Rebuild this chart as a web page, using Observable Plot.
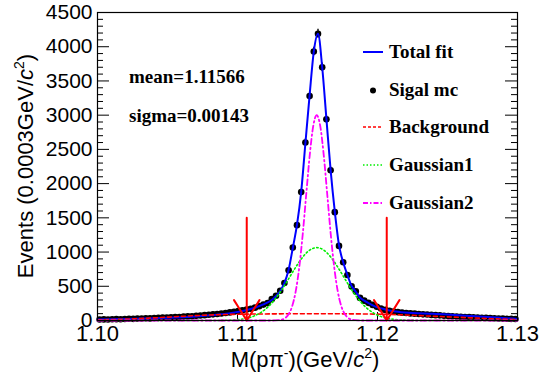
<!DOCTYPE html>
<html><head><meta charset="utf-8">
<script src="https://cdn.jsdelivr.net/npm/d3@7"></script>
<script src="https://cdn.jsdelivr.net/npm/@observablehq/plot@0.6"></script>
<style>body{margin:0;background:#fff;} svg{display:block}</style>
</head><body><div id="chart"></div>
<script>
// ---- data ----
const binLow = 1.10, binWidth = 0.0003;
const counts = [
  14, 16, 15, 18, 20, 19, 23, 25, 24, 28,
  30, 32, 31, 36, 38, 42, 44, 47, 50, 52,
  57, 60, 63, 68, 72, 78, 84, 90, 96, 102,
  110, 118, 128, 138, 148, 160, 172, 188, 210, 232,
  254, 312, 362, 435, 547, 735, 1065, 1393, 1876, 2600,
  3280, 3930, 4190, 3700, 2940, 2195, 1583, 1090, 850, 665,
  498, 425, 330, 290, 258, 228, 200, 175, 155, 140,
  130, 122, 115, 110, 104, 100, 95, 90, 87, 82,
  78, 75, 70, 66, 63, 58, 55, 52, 49, 46,
  43, 40, 38, 35, 32, 30, 28, 26, 24, 22
];
const totalMass = [1.1000,1.1020,1.1040,1.1055,1.1070,1.1085,1.1097,1.1106,1.1113,1.11185,
  1.11245,1.11275,1.11305,1.11335,1.11365,1.11395,1.11425,1.11455,1.11485,1.11515,
  1.11545,1.11575,1.11605,1.11635,1.11665,1.11695,1.11725,1.11755,1.11785,1.11815,
  1.11845,1.11875,1.11905,1.11935,1.1199,1.1205,1.1213,1.1225,1.1240,1.1255,1.1270,1.1285,1.1300];
const totalFit = [15,22,32,44,60,85,115,150,190,235,
  300,355,430,545,740,1060,1400,1880,2590,3290,
  3930,4190,3700,2950,2200,1590,1100,850,665,505,
  420,335,290,255,200,165,130,110,98,80,62,45,22];
const bgMass = [1.100,1.102,1.104,1.106,1.108,1.110,1.112,1.114,1.116,1.118,1.120,1.122,1.124,1.126,1.128,1.130];
const bgFit  = [10,20,38,60,80,91,96,98,98,97,93,80,62,45,28,12];
const g1Mass = [1.100,1.10816,1.10866,1.10916,1.10966,1.11016,1.11066,1.11116,1.11166,1.11216,1.11266,1.11316,1.11366,1.11416,1.11466,1.11516,
  1.11566,1.11616,1.11666,1.11716,1.11766,1.11816,1.11866,1.11916,1.11966,1.12016,1.12066,1.12116,1.12166,1.12216,1.12266,1.12316,1.130];
const g1Fit  = [0,0,1,3,7,16,33,64,116,195,306,448,612,780,927,1029,
  1065,1029,927,780,612,448,306,195,116,64,33,16,7,3,1,0,0];
const g2Mass = [1.100,1.11216,1.11241,1.11266,1.11291,1.11316,1.11341,1.11366,1.11391,1.11416,1.11441,1.11466,1.11491,1.11516,1.11541,
  1.11566,1.11591,1.11616,1.11641,1.11666,1.11691,1.11716,1.11741,1.11766,1.11791,1.11816,1.11841,1.11866,1.11891,1.11916,1.130];
const g2Fit  = [0,0,0,1,4,13,37,94,212,428,776,1262,1844,2416,2842,
  3000,2842,2416,1844,1262,776,428,212,94,37,13,4,1,0,0,0];
const arrowMass = [1.11066, 1.12066];
const arrowTop = 1500;
const xTicks = [1.10, 1.11, 1.12, 1.13];
const yTicks = [0,500,1000,1500,2000,2500,3000,3500,4000,4500];
const yMinor = d3.range(0, 4501, 100).filter(v => v % 500 !== 0);
const legendLabels = ["Total fit", "Sigal mc", "Background", "Gaussian1", "Gaussian2"];
const fitTexts = ["mean=1.11566", "sigma=0.00143"];

// ---- layout ----
const W = 550, H = 376, mL = 97, mR = 33, mT = 12, mB = 56;
const pw = W - mL - mR, ph = H - mT - mB;
const bins = counts.map((c, i) => ({m: binLow + (i + 0.5) * binWidth, c}));

const plot = Plot.plot({
  width: W, height: H, marginLeft: mL, marginRight: mR, marginTop: mT, marginBottom: mB,
  x: {domain: [1.10, 1.13]},
  y: {domain: [0, 4500]},
  style: {fontFamily: "Liberation Sans, Arial, sans-serif", background: "#fff", color: "#000"},
  marks: [
    Plot.ruleY(yTicks, {insetRight: pw - 12, stroke: "#000"}),
    Plot.ruleY(yMinor, {insetRight: pw - 6, stroke: "#000"}),
    Plot.ruleY(yTicks, {insetLeft: pw - 12, stroke: "#000"}),
    Plot.ruleY(yMinor, {insetLeft: pw - 6, stroke: "#000"}),
    Plot.ruleX(xTicks, {insetTop: ph - 8, stroke: "#000"}),
    Plot.axisY({ticks: yTicks, tickSize: 0, tickPadding: 5, fontSize: 21, tickFormat: d => String(d), label: null}),
    Plot.axisX({ticks: xTicks, tickSize: 0, tickPadding: 5, fontSize: 22, tickFormat: d3.format(".2f"), label: null}),
    Plot.ruleX(bins, {x: "m", y1: d => d.c - Math.sqrt(d.c), y2: d => d.c + Math.sqrt(d.c), stroke: "#000", strokeWidth: 1.4}),
    Plot.ruleY(bins, {y: "c", x1: d => d.m - binWidth / 2, x2: d => d.m + binWidth / 2, stroke: "#000", strokeWidth: 1.6}),
    Plot.dot(bins, {x: "m", y: "c", r: 3.3, fill: "#000", stroke: null}),
    Plot.line(totalFit, {x: totalMass, y: totalFit, curve: "monotone-x", stroke: "#0000ff", strokeWidth: 2}),
    Plot.line(bgFit, {x: bgMass, y: bgFit, curve: "monotone-x", stroke: "#ff0000", strokeWidth: 1.6, strokeDasharray: "4,3"}),
    Plot.line(g1Fit, {x: g1Mass, y: g1Fit, curve: "monotone-x", stroke: "#00ee00", strokeWidth: 1.6, strokeDasharray: "1.5,2.5"}),
    Plot.line(g2Fit, {x: g2Mass, y: g2Fit, curve: "monotone-x", stroke: "#ff00ff", strokeWidth: 1.8, strokeDasharray: "6,3,1.5,3"}),
    Plot.arrow(arrowMass, {x1: d => d, x2: d => d, y1: arrowTop, y2: 0, stroke: "#ff0000", strokeWidth: 2, headLength: 18, headAngle: 64}),
    Plot.frame({stroke: "#000", strokeWidth: 1.2})
  ]
});
document.getElementById("chart").appendChild(plot);

// ---- titles, legend, fit text ----
const svg = d3.select(plot);
const ytitle = svg.append("text")
  .attr("transform", "translate(33,166) rotate(-90)")
  .attr("text-anchor", "middle").attr("font-size", 22)
  .attr("font-family", "Liberation Sans, Arial, sans-serif").attr("fill", "#000");
ytitle.append("tspan").text("Events (0.0003GeV/");
ytitle.append("tspan").attr("font-style", "italic").text("c");
ytitle.append("tspan").attr("font-size", 14).attr("dy", -9).text("2");
ytitle.append("tspan").attr("dy", 9).text(")");

const xtitle = svg.append("text")
  .attr("transform", "translate(305,367)")
  .attr("text-anchor", "middle").attr("font-size", 22)
  .attr("font-family", "Liberation Sans, Arial, sans-serif").attr("fill", "#000");
xtitle.append("tspan").text("M(pπ");
xtitle.append("tspan").attr("font-size", 14).attr("dy", -9).text("-");
xtitle.append("tspan").attr("dy", 9).text(")(GeV/");
xtitle.append("tspan").attr("font-style", "italic").text("c");
xtitle.append("tspan").attr("font-size", 14).attr("dy", -9).text("2");
xtitle.append("tspan").attr("dy", 9).text(")");

const serif = svg.append("g")
  .attr("font-family", "Liberation Serif, Times New Roman, serif")
  .attr("text-anchor", "start")
  .attr("font-weight", "bold").attr("font-size", 19).attr("fill", "#000");
const fitBase = [83, 122];
fitTexts.forEach((t, i) => serif.append("text").attr("x", 129).attr("y", fitBase[i]).text(t));

const legBase = [58, 95.5, 133, 171, 209];
const legStyles = [
  {stroke: "#0000ff", dash: null, w: 2},
  null,
  {stroke: "#ff0000", dash: "3,2", w: 1.6},
  {stroke: "#00ee00", dash: "1.5,2", w: 1.6},
  {stroke: "#ff00ff", dash: "5,2,1.5,2", w: 1.8}
];
legendLabels.forEach((lab, i) => {
  const yb = legBase[i];
  const s = legStyles[i];
  if (s) {
    serif.append("line").attr("x1", 363).attr("x2", 383).attr("y1", yb - 6).attr("y2", yb - 6)
      .attr("stroke", s.stroke).attr("stroke-width", s.w).attr("stroke-dasharray", s.dash);
  } else {
    serif.append("circle").attr("cx", 373).attr("cy", yb - 5).attr("r", 3).attr("fill", "#000");
  }
  serif.append("text").attr("x", 389).attr("y", yb).text(lab);
});
</script>
</body></html>
